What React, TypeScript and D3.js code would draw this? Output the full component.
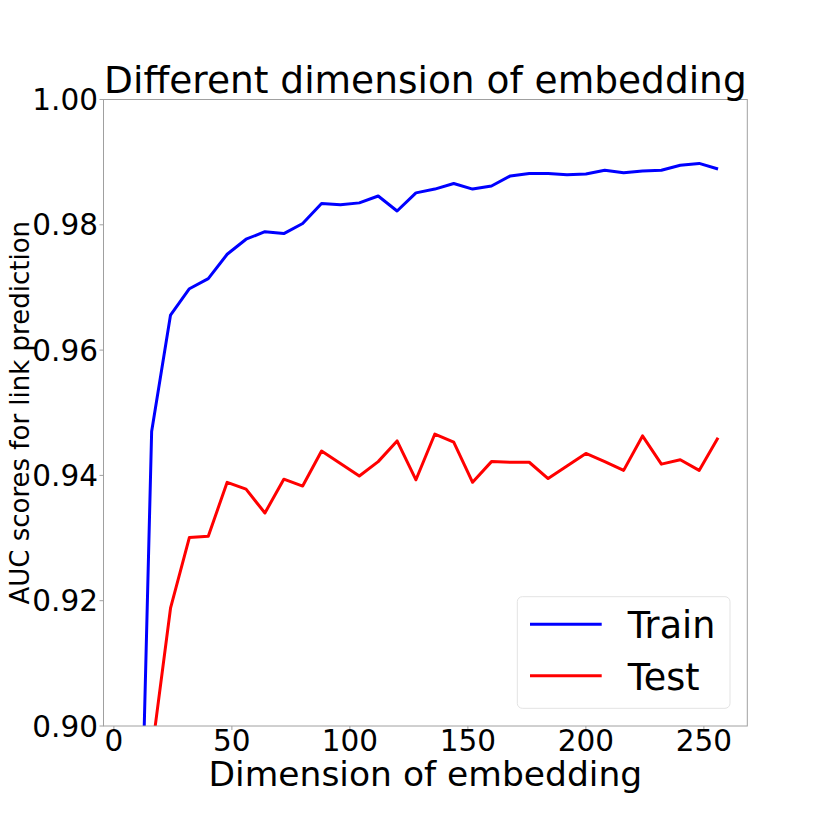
import { useRef, useEffect } from 'react';
import * as d3 from 'd3';

// Embedding sizes and AUC scores
const dims = [8, 16, 24, 32, 40, 48, 56, 64, 72, 80, 88, 96, 104, 112, 120, 128,
  136, 144, 152, 160, 168, 176, 184, 192, 200, 208, 216, 224, 232, 240, 248, 256];

const trainAuc = [0.827, 0.947, 0.9656, 0.9698, 0.9714, 0.9753, 0.9777, 0.9789, 0.9786, 0.9802,
  0.9834, 0.9832, 0.9835, 0.9846, 0.9822, 0.9851, 0.9857, 0.9866, 0.9857, 0.9862,
  0.9878, 0.9882, 0.9882, 0.988, 0.9881, 0.9887, 0.9883, 0.9886, 0.9887, 0.9895, 0.9898, 0.9889];

const testAuc = [0.85, 0.8956, 0.9188, 0.9301, 0.9303, 0.9389, 0.9378, 0.934, 0.9394, 0.9383,
  0.9439, 0.9419, 0.9399, 0.9422, 0.9455, 0.9393, 0.9466, 0.9453, 0.9389, 0.9422,
  0.9421, 0.9421, 0.9395, 0.9415, 0.9435, 0.9422, 0.9408, 0.9463, 0.9418, 0.9425, 0.9408, 0.946];

const xTicks = [0, 50, 100, 150, 200, 250];
const yTicks = [0.9, 0.92, 0.94, 0.96, 0.98, 1.0];

const series = [
  { name: 'Train', values: trainAuc, color: '#0000ff' },
  { name: 'Test', values: testAuc, color: '#ff0000' }
];

export default function App() {
  const ref = useRef<SVGSVGElement>(null);

  useEffect(() => {
    if (!ref.current) return;
    const width = 830;
    const height = 830;
    const left = 103.5, right = 747.3, top = 99.5, bottom = 726;
    const font = "'DejaVu Sans', sans-serif";
    const frameColor = '#a0a0a0';

    const svg = d3.select(ref.current)
      .attr('width', width)
      .attr('height', height);
    svg.selectAll('*').remove();

    const pad = (256 - 8) * 0.05;
    const x = d3.scaleLinear().domain([8 - pad, 256 + pad]).range([left, right]);
    const y = d3.scaleLinear().domain([0.9, 1.0]).range([bottom, top]);

    svg.append('rect').attr('width', width).attr('height', height).attr('fill', '#fff');

    svg.append('clipPath').attr('id', 'plot-clip')
      .append('rect')
      .attr('x', left).attr('y', top)
      .attr('width', right - left).attr('height', bottom - top);

    // lines
    const line = d3.line<number>()
      .x((_, i) => x(dims[i]))
      .y(d => y(d));

    svg.append('g').attr('clip-path', 'url(#plot-clip)')
      .selectAll('path')
      .data(series)
      .join('path')
      .attr('fill', 'none')
      .attr('stroke', d => d.color)
      .attr('stroke-width', 3)
      .attr('stroke-linejoin', 'round')
      .attr('d', d => line(d.values));

    // frame
    svg.append('rect')
      .attr('x', left).attr('y', top)
      .attr('width', right - left).attr('height', bottom - top)
      .attr('fill', 'none')
      .attr('stroke', frameColor)
      .attr('stroke-width', 1);

    // x ticks
    const xg = svg.append('g');
    xg.selectAll('line')
      .data(xTicks)
      .join('line')
      .attr('x1', d => x(d)).attr('x2', d => x(d))
      .attr('y1', bottom).attr('y2', bottom + 4)
      .attr('stroke', frameColor);
    xg.selectAll('text')
      .data(xTicks)
      .join('text')
      .attr('x', d => x(d))
      .attr('y', 751)
      .attr('text-anchor', 'middle')
      .style('font-family', font)
      .style('font-size', '29.5px')
      .text(d => d);

    // y ticks
    const yg = svg.append('g');
    yg.selectAll('line')
      .data(yTicks)
      .join('line')
      .attr('x1', left - 4).attr('x2', left)
      .attr('y1', d => y(d)).attr('y2', d => y(d))
      .attr('stroke', frameColor);
    yg.selectAll('text')
      .data(yTicks)
      .join('text')
      .attr('x', 98)
      .attr('y', d => y(d))
      .attr('dy', '0.36em')
      .attr('text-anchor', 'end')
      .style('font-family', font)
      .style('font-size', '29.5px')
      .text(d => d.toFixed(2));

    // axis labels and title
    svg.append('text')
      .attr('x', (left + right) / 2)
      .attr('y', 786)
      .attr('text-anchor', 'middle')
      .style('font-family', font)
      .style('font-size', '34.5px')
      .text('Dimension of embedding');

    svg.append('text')
      .attr('transform', `translate(28.5,${(top + bottom) / 2}) rotate(-90)`)
      .attr('text-anchor', 'middle')
      .style('font-family', font)
      .style('font-size', '26px')
      .text('AUC scores for link prediction');

    svg.append('text')
      .attr('x', (left + right) / 2)
      .attr('y', 93)
      .attr('text-anchor', 'middle')
      .style('font-family', font)
      .style('font-size', '37.5px')
      .text('Different dimension of embedding');

    // legend
    const lg = svg.append('g');
    lg.append('rect')
      .attr('x', 517.3).attr('y', 596.7)
      .attr('width', 730 - 517.3).attr('height', 708.3 - 596.7)
      .attr('rx', 5)
      .attr('fill', '#fff')
      .attr('fill-opacity', 0.8)
      .attr('stroke', '#e3e3e3');
    const items = lg.selectAll('g.item')
      .data(series)
      .join('g')
      .attr('class', 'item')
      .attr('transform', (_, i) => `translate(0,${624.3 + i * 51.4})`);
    items.append('line')
      .attr('x1', 530).attr('x2', 601.7)
      .attr('stroke', d => d.color)
      .attr('stroke-width', 3);
    items.append('text')
      .attr('x', 627.7)
      .attr('y', 14)
      .style('font-family', font)
      .style('font-size', '36.5px')
      .text(d => d.name);
  }, []);

  return (
    <svg ref={ref} style={{ position: 'absolute', left: 0, top: 0 }}></svg>
  );
}
